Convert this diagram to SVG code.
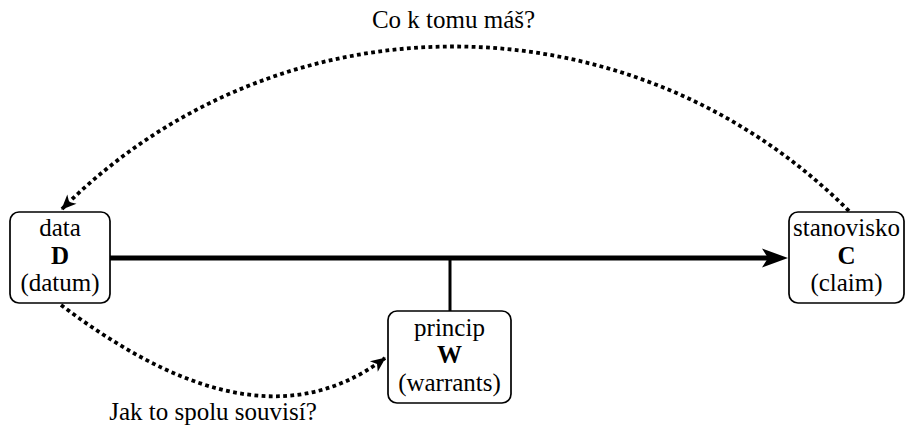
<svg xmlns="http://www.w3.org/2000/svg" width="907" height="427" viewBox="0 0 907 427">
<style>
.box{fill:#fff;stroke:#000;stroke-width:1.7}
.t{font-family:'Liberation Serif','Times New Roman',Times,serif;font-size:25px;fill:#000;text-anchor:middle}
.b{font-weight:bold}
.dot{fill:none;stroke:#000;stroke-width:3.8;stroke-dasharray:3.8 3.4}
</style>
<defs>
<marker id="big" markerUnits="userSpaceOnUse" viewBox="-12 -11 30 22" markerWidth="30" markerHeight="22" refX="0" refY="0" orient="auto">
<path d="M16,0 L-10,-9.5 L-4,0 L-10,9.5 Z" fill="#000"/>
</marker>
<marker id="small" markerUnits="userSpaceOnUse" viewBox="-17 -8 19 16" markerWidth="19" markerHeight="16" refX="0" refY="0" orient="auto">
<path d="M1,0 L-14,-6.5 L-10,0 L-14,6.5 Z" fill="#000"/>
</marker>
</defs>
<g id="connectors">
<line x1="110" y1="258" x2="772" y2="258" stroke="#000" stroke-width="5" marker-end="url(#big)"/>
<line x1="450" y1="258" x2="450" y2="311" stroke="#000" stroke-width="3"/>
<path class="dot" d="M849,211 C631,-7 280,-9 62,209" marker-end="url(#small)"/>
<path class="dot" d="M61,305 C165,383 282,436 385,358" marker-end="url(#small)"/>
<text class="t" font-family="Liberation Serif, serif" x="453.5" y="28">Co k tomu máš?</text>
<text class="t" font-family="Liberation Serif, serif" x="213" y="420">Jak to spolu souvisí?</text>
</g>
<g id="D">
<rect class="box" x="10" y="212" width="100" height="91" rx="9"/>
<text class="t" font-family="Liberation Serif, serif" x="60" y="236">data</text>
<text class="t b" font-family="Liberation Serif, serif" x="60" y="263.5">D</text>
<text class="t" font-family="Liberation Serif, serif" x="60" y="291">(datum)</text>
</g>
<g id="C">
<rect class="box" x="789" y="212" width="115" height="91" rx="9"/>
<text class="t" font-family="Liberation Serif, serif" x="846.5" y="236">stanovisko</text>
<text class="t b" font-family="Liberation Serif, serif" x="846.5" y="263.5">C</text>
<text class="t" font-family="Liberation Serif, serif" x="846.5" y="291">(claim)</text>
</g>
<g id="W">
<rect class="box" x="388" y="311" width="123" height="92" rx="9"/>
<text class="t" font-family="Liberation Serif, serif" x="449.5" y="335.5">princip</text>
<text class="t b" font-family="Liberation Serif, serif" x="449.5" y="363">W</text>
<text class="t" font-family="Liberation Serif, serif" x="449.5" y="390.5">(warrants)</text>
</g>
</svg>
